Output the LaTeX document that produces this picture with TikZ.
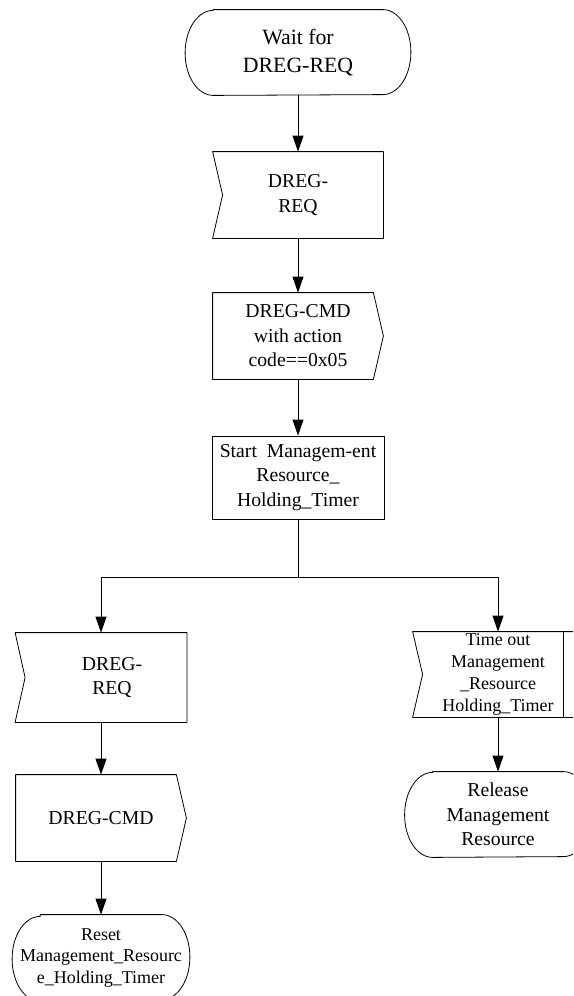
\documentclass[tikz,border=0pt]{standalone}
\usepackage{fontspec}
\setmainfont{Liberation Serif}
\usetikzlibrary{arrows.meta}
\tikzset{
	txt/.style={align=center, inner sep=0pt, font=\fontsize{19.7}{24.5}\selectfont},
	small/.style={font=\fontsize{18}{21.7}\selectfont},
	term/.style={txt, minimum width=225, minimum height=85},
	sig/.style={txt, minimum width=170, minimum height=86},
	proc/.style={txt, draw, minimum width=172, minimum height=83}
}
\begin{document}
\begin{tikzpicture}[x=1pt, y=-1pt, line width=.8pt, line join=round, >={Triangle[length=16pt,width=11pt]}]
	\useasboundingbox (0,0) rectangle (573,996);
	\clip (0,0) rectangle (573,996);
	% main chain
	\node[term, font=\fontsize{21.8}{28}\selectfont] (wait) at (298,52.5) {Wait for\\DREG-REQ};
	\node[sig] (req1) at (298,195) {DREG-\\REQ};
	\node[sig] (cmd1) at (298,336) {DREG-CMD\\with action\\code==0x05};
	\node[proc] (start) at (298,477.5) {Start\ \ Managem-ent\\Resource\_\\Holding\_Timer};
	\coordinate (split) at (298,577);
	% left branch
	\node[sig, minimum width=171, minimum height=89] (req2) at (101,677.5) {\hspace*{22pt}DREG-\\\hspace*{22pt}REQ};
	\node[sig] (cmd2) at (101,818) {DREG-CMD};
	\node[term, small, minimum width=177, minimum height=86] (reset) at (101,958) {Reset\\Management\_Resourc\\e\_Holding\_Timer};
	% right branch
	\node[sig, small, minimum height=85] (tout) at (498,674.5) {Time out\\Management\\\_Resource\\Holding\_Timer};
	\node[term, minimum width=186] (release) at (498,814.5) {Release\\Management\\Resource};
	% outlines
	\foreach \n in {wait,release,reset}
	\draw ([xshift=28pt]\n.north west) -- ([xshift=-28pt]\n.north east)
	arc[start angle=90, end angle=-90, x radius=28pt, y radius=42.5pt]
	-- ([xshift=28pt]\n.south west)
	arc[start angle=270, end angle=90, x radius=28pt, y radius=42.5pt] -- cycle;
	\foreach \n in {req1,req2,tout}
	\draw (\n.north west) -- (\n.north east) -- (\n.south east) -- (\n.south west) -- ([xshift=10pt]\n.west) -- cycle;
	\foreach \n in {cmd1,cmd2}
	\draw (\n.north west) -- ([xshift=-10pt]\n.north east) -- (\n.east) -- ([xshift=-10pt]\n.south east) -- (\n.south west) -- cycle;
	\draw ([xshift=-20pt]tout.north east) -- ([xshift=-20pt]tout.south east);
	% connectors
	\draw[->] (wait) -- (req1);
	\draw[->] (req1) -- (cmd1);
	\draw[->] (cmd1) -- (start);
	\draw (start) -- (split);
	\draw[->] (split) -| (req2);
	\draw[->] (split) -| (tout);
	\draw[->] (req2) -- (cmd2);
	\draw[->] (cmd2) -- (reset);
	\draw[->] (tout) -- (release);
\end{tikzpicture}
\end{document}
